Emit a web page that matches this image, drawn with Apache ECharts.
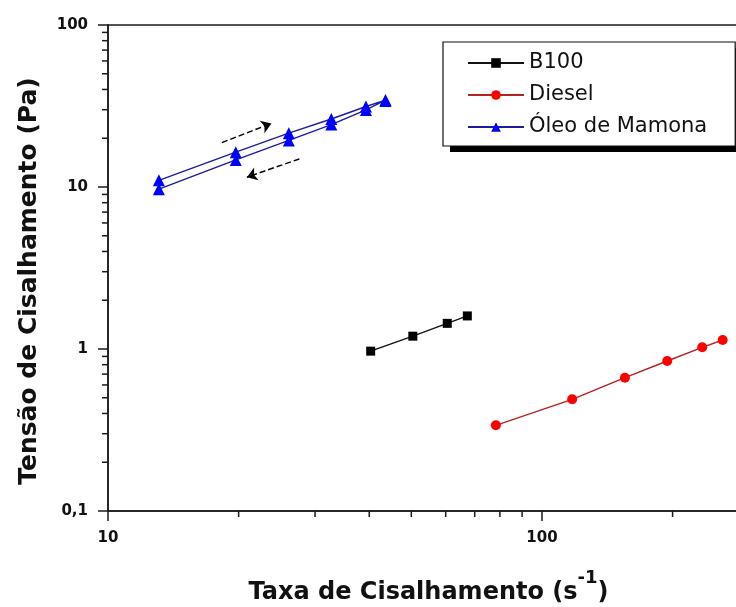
<!DOCTYPE html>
<html>
<head>
<meta charset="utf-8">
<script src="https://cdn.jsdelivr.net/npm/echarts@6/dist/echarts.min.js"></script>
<style>
  html, body { margin: 0; padding: 0; background: #fff; }
  #chart { width: 736px; height: 607px; }
</style>
</head>
<body>
<div id="chart"></div>
<script>
// Shear rate (1/s) and shear stress (Pa) for each fluid
const b100Rate = [40.3, 50.4, 60.5, 67.3];
const b100Stress = [0.97, 1.20, 1.44, 1.60];

const dieselRate = [78.3, 117.4, 155.3, 194.4, 234.1, 260.9];
const dieselStress = [0.338, 0.489, 0.665, 0.843, 1.024, 1.136];

// Castor oil: ramp up, then ramp back down (hysteresis loop)
const castorUpRate = [13.1, 19.7, 26.1, 32.7, 39.3, 43.6];
const castorUpStress = [11.0, 16.4, 21.5, 26.3, 31.4, 34.4];
const castorDownRate = [43.6, 39.3, 32.7, 26.1, 19.7, 13.1];
const castorDownStress = [33.9, 29.9, 24.3, 19.4, 14.7, 9.7];

// Direction arrows (data coordinates: start, end)
const arrowUp = [[18.3, 18.8], [23.8, 24.7]];
const arrowDown = [[27.6, 14.9], [20.9, 11.5]];

// Tick labels by decade exponent
const yTickLabels = { '-1': '0,1', '0': '1', '1': '10', '2': '100' };
const xTickLabels = { '1': '10', '2': '100' };

const seriesNames = ['B100', 'Diesel', 'Óleo de Mamona'];

const X_MIN = 10, X_MAX = 300, Y_MIN = 0.1, Y_MAX = 100;
const AXIS_COLOR = '#1a1a1a';

// Legend box placement (the drop shadow is drawn behind it)
const LEGEND_LEFT = 443, LEGEND_TOP = 42;
const LEGEND_W = 292, LEGEND_H = 104;
const SHADOW_DX = 7, SHADOW_DY = 6;

function pairs(xs, ys) { return xs.map((x, i) => [x, ys[i]]); }
function decadeLabel(map) {
  return function (v) {
    const e = Math.log10(v);
    const k = Math.round(e);
    if (Math.abs(e - k) > 1e-6) return '';
    return map[String(k)] || '';
  };
}

const tickFont = { fontFamily: 'DejaVu Sans', fontWeight: 'bold', fontSize: 15, color: '#111' };

const chart = echarts.init(document.getElementById('chart'), null, { renderer: 'canvas' });

chart.setOption({
  animation: false,
  backgroundColor: '#fff',
  grid: {
    left: 108, top: 25, width: 641, height: 486,
    show: true, borderColor: AXIS_COLOR, borderWidth: 1.5,
    backgroundColor: 'transparent',
    containLabel: false, outerBoundsMode: 'none'
  },
  legend: {
    orient: 'vertical',
    left: LEGEND_LEFT, top: LEGEND_TOP,
    itemWidth: 56, itemHeight: 12, itemGap: 10,
    padding: [10, 28, 8, 24],
    backgroundColor: '#fff',
    borderColor: '#111', borderWidth: 1.2,
    textStyle: { fontFamily: 'DejaVu Sans', fontSize: 21, color: '#111', lineHeight: 22 },
    selectedMode: false,
    data: seriesNames
  },
  xAxis: {
    type: 'log', logBase: 10, min: X_MIN, max: X_MAX,
    axisLine: { show: true, onZero: false, lineStyle: { color: AXIS_COLOR, width: 1.5 } },
    axisTick: { show: true, length: 10, lineStyle: { color: AXIS_COLOR, width: 1.5 } },
    axisLabel: Object.assign({ margin: 20, showMaxLabel: false, formatter: decadeLabel(xTickLabels) }, tickFont),
    splitLine: { show: false },
    minorTick: { show: false },
    name: '{t|Taxa de Cisalhamento (s}{s|-1}{t|)}',
    nameLocation: 'middle',
    nameGap: 58,
    nameTextStyle: {
      rich: {
        t: { fontFamily: 'DejaVu Sans', fontWeight: 'bold', fontSize: 24, color: '#111', lineHeight: 36, verticalAlign: 'bottom' },
        s: { fontFamily: 'DejaVu Sans', fontWeight: 'bold', fontSize: 18, color: '#111', lineHeight: 18, verticalAlign: 'top' }
      }
    }
  },
  yAxis: {
    type: 'log', logBase: 10, min: Y_MIN, max: Y_MAX,
    axisLine: { show: true, onZero: false, lineStyle: { color: AXIS_COLOR, width: 1.5 } },
    axisTick: { show: true, length: 10, lineStyle: { color: AXIS_COLOR, width: 1.5 } },
    axisLabel: Object.assign({ margin: 20, formatter: decadeLabel(yTickLabels) }, tickFont),
    splitLine: { show: false },
    minorTick: { show: false },
    name: 'Tensão de Cisalhamento (Pa)',
    nameLocation: 'middle',
    nameRotate: 90,
    nameGap: 66,
    nameTextStyle: {
      fontFamily: 'DejaVu Sans', fontWeight: 'bold', fontSize: 25, color: '#111',
      padding: [0, 26, 0, 0]
    }
  },
  series: [
    {
      name: seriesNames[0],
      type: 'line',
      data: pairs(b100Rate, b100Stress),
      symbol: 'rect', symbolSize: 9,
      itemStyle: { color: '#000' },
      lineStyle: { color: '#111', width: 1.4 },
      emphasis: { disabled: true }
    },
    {
      name: seriesNames[1],
      type: 'line',
      data: pairs(dieselRate, dieselStress),
      symbol: 'circle', symbolSize: 10,
      itemStyle: { color: '#ff0000' },
      lineStyle: { color: '#b42222', width: 1.4 },
      emphasis: { disabled: true }
    },
    {
      name: seriesNames[2],
      type: 'line',
      data: pairs(castorUpRate, castorUpStress).concat(pairs(castorDownRate, castorDownStress)),
      symbol: 'triangle', symbolSize: 12,
      itemStyle: { color: '#0000ff' },
      lineStyle: { color: '#1c1ca0', width: 1.4 },
      emphasis: { disabled: true },
      markLine: {
        silent: true,
        symbol: ['none', 'arrow'],
        symbolSize: 10,
        label: { show: false },
        lineStyle: { color: '#000', type: 'dashed', width: 1.5 },
        emphasis: { disabled: true },
        data: [
          [{ coord: arrowUp[0] }, { coord: arrowUp[1] }],
          [{ coord: arrowDown[0] }, { coord: arrowDown[1] }]
        ]
      }
    }
  ]
});

// Minor ticks at 2..9 of each decade, placed through the axis scales
function minorValues(lo, hi) {
  const out = [];
  for (let d = lo; d < hi; d *= 10) {
    for (let k = 2; k <= 9; k++) {
      const v = +(d * k).toPrecision(6);
      if (v > lo && v < hi) out.push(v);
    }
  }
  return out;
}

const MINOR_LEN = 6;
const xAxisPix = chart.convertToPixel({ xAxisIndex: 0 }, X_MIN);
const yAxisPix = chart.convertToPixel({ yAxisIndex: 0 }, Y_MIN);

const extraGraphics = [{
  // solid drop shadow under the legend box
  type: 'rect', silent: true, z: 1,
  shape: { x: LEGEND_LEFT + SHADOW_DX, y: LEGEND_TOP + SHADOW_DY, width: LEGEND_W, height: LEGEND_H },
  style: { fill: '#000' }
}];

minorValues(X_MIN, X_MAX).forEach(function (v) {
  const px = chart.convertToPixel({ xAxisIndex: 0 }, v);
  extraGraphics.push({
    type: 'line', silent: true,
    shape: { x1: px, y1: yAxisPix, x2: px, y2: yAxisPix + MINOR_LEN },
    style: { stroke: AXIS_COLOR, lineWidth: 1.5 }
  });
});
minorValues(Y_MIN, Y_MAX).forEach(function (v) {
  const py = chart.convertToPixel({ yAxisIndex: 0 }, v);
  extraGraphics.push({
    type: 'line', silent: true,
    shape: { x1: xAxisPix - MINOR_LEN, y1: py, x2: xAxisPix, y2: py },
    style: { stroke: AXIS_COLOR, lineWidth: 1.5 }
  });
});

chart.setOption({ graphic: extraGraphics });
</script>
</body>
</html>
